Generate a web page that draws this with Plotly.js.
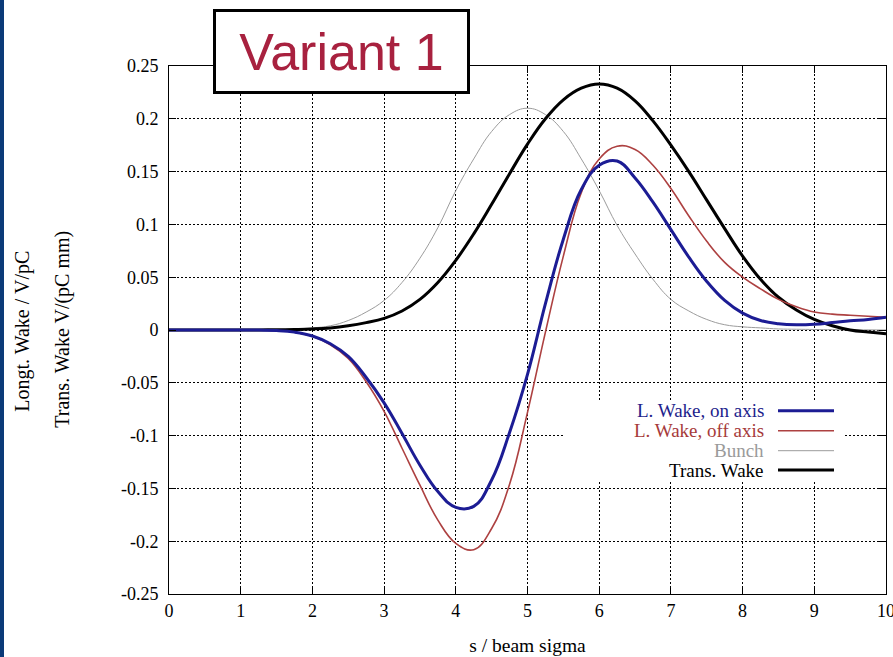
<!DOCTYPE html>
<html>
<head>
<meta charset="utf-8">
<script src="https://cdn.plot.ly/plotly-3.0.1.min.js"></script>
<style>
html,body{margin:0;padding:0;background:#fff;}
#chart{width:893px;height:657px;}
</style>
</head>
<body>
<div id="chart"></div>
<script>
// ---- data ----
const s = [0,0.25,0.5,0.75,1,1.25,1.5,1.75,2,2.25,2.5,2.75,3,3.25,3.5,3.75,4,4.25,4.5,4.75,5,5.25,5.5,5.75,6,6.25,6.5,6.75,7,7.25,7.5,7.75,8,8.25,8.5,8.75,9,9.25,9.5,9.75,10];

const wakeOnAxis = [0,0,0,0,0,-0.0001,-0.0005,-0.002,-0.0057,-0.013,-0.025,-0.045,-0.069,-0.098,-0.128,-0.153,-0.168,-0.167,-0.142,-0.097,-0.042,0.025,0.086,0.133,0.156,0.160,0.144,0.121,0.095,0.069,0.046,0.028,0.016,0.009,0.006,0.005,0.0055,0.007,0.0087,0.010,0.012];

const wakeOffAxis = [0,0,0,0,0,-0.0001,-0.0005,-0.002,-0.006,-0.014,-0.027,-0.049,-0.077,-0.112,-0.147,-0.180,-0.202,-0.208,-0.188,-0.146,-0.078,-0.002,0.070,0.130,0.162,0.174,0.171,0.156,0.134,0.108,0.084,0.064,0.050,0.039,0.029,0.022,0.017,0.015,0.014,0.013,0.012];

const bunch = [0,0,0,0,0,0.0002,0.0005,0.001,0.002,0.004,0.009,0.017,0.028,0.045,0.068,0.097,0.132,0.162,0.188,0.204,0.210,0.204,0.188,0.162,0.132,0.099,0.072,0.048,0.029,0.018,0.010,0.005,0.003,0.002,0.001,0.0007,0.0005,0.0003,0.0002,0.0001,0];

const transWake = [0,0,0,0,0,0.0001,0.0002,0.0005,0.001,0.002,0.004,0.007,0.011,0.018,0.029,0.045,0.066,0.091,0.119,0.148,0.176,0.200,0.218,0.229,0.233,0.229,0.217,0.198,0.175,0.150,0.123,0.096,0.070,0.048,0.031,0.019,0.010,0.004,0.000,-0.002,-0.0035];

const seriesNames = ["L. Wake, on axis","L. Wake, off axis","Bunch","Trans. Wake"];
const xTicks = [0,1,2,3,4,5,6,7,8,9,10];
const xTickLabels = ["0","1","2","3","4","5","6","7","8","9","10"];
const yTicks = [-0.25,-0.2,-0.15,-0.1,-0.05,0,0.05,0.1,0.15,0.2,0.25];
const yTickLabels = ["-0.25","-0.2","-0.15","-0.1","-0.05","0","0.05","0.1","0.15","0.2","0.25"];
const chartTitle = "Variant 1";
const xTitle = "s / beam sigma";
const yTitle1 = "Longt. Wake / V/pC";
const yTitle2 = "Trans. Wake V/(pC mm)";

// ---- styles ----
const serif = "Liberation Serif, 'Times New Roman', serif";
const colors = ["#1c1c94","#ad4141","#9c9c9c","#000000"];
const widths = [3,1.6,1,3];
const textColors = ["#1e1e8c","#a63a3a","#9a9a9a","#000000"];
const values = [wakeOnAxis, wakeOffAxis, bunch, transWake];

const traces = values.map((v,i)=>({
  x: s, y: v, type: "scatter", mode: "lines", name: seriesNames[i],
  line: {color: colors[i], width: widths[i], shape: "spline", smoothing: 1.2},
  showlegend: false, hoverinfo: "skip"
}));
const order = [2,3,1,0].map(i=>traces[i]);

// paper coordinate helpers for the plot box (169..886 x 66..594)
const L=169, R=886, T=66, B=594;
const px = v => (v-L)/(R-L);
const py = v => (B-v)/(B-T);

const legendRows = [410.7, 430.7, 450.7, 470];
const shapes = [
  {type:"rect", xref:"paper", yref:"paper", x0:px(563), x1:px(845), y0:py(482), y1:py(400),
   fillcolor:"#ffffff", line:{width:0}, layer:"above"},
  {type:"rect", xref:"paper", yref:"paper", x0:px(0), x1:px(4), y0:py(700), y1:py(-50),
   fillcolor:"#0b3a78", line:{width:0}, layer:"above"}
];
const annotations = [];
seriesNames.forEach((n,i)=>{
  shapes.push({type:"line", xref:"paper", yref:"paper", x0:px(778), x1:px(834),
    y0:py(legendRows[i]), y1:py(legendRows[i]), line:{color:colors[i], width:widths[i]}, layer:"above"});
  annotations.push({xref:"paper", yref:"paper", x:px(766), y:py(legendRows[i]), xanchor:"right", yanchor:"middle",
    text:n, showarrow:false, font:{family:serif, size:19, color:textColors[i]}});
});
annotations.push({xref:"paper", yref:"paper", x:px(21.7), y:py(331), xanchor:"center", yanchor:"middle",
  textangle:-90, text:yTitle1, showarrow:false, font:{family:serif, size:20, color:"#000"}});
annotations.push({xref:"paper", yref:"paper", x:px(61.7), y:py(329), xanchor:"center", yanchor:"middle",
  textangle:-90, text:yTitle2, showarrow:false, font:{family:serif, size:20, color:"#000"}});
annotations.push({xref:"paper", yref:"paper", x:px(341), y:py(51.5), xanchor:"center", yanchor:"middle",
  text:chartTitle, showarrow:false, width:249, height:77, borderpad:1, borderwidth:3,
  bordercolor:"#000", bgcolor:"#ffffff",
  font:{family:"Liberation Sans, Arial, sans-serif", size:52, color:"#a8213f"}});

const axisCommon = {
  showline:true, linecolor:"#000", linewidth:1, mirror:"ticks",
  ticks:"inside", ticklen:7, tickcolor:"#000", tickwidth:1,
  showgrid:true, gridcolor:"#000", gridwidth:1, griddash:"2px,2px",
  zeroline:false, ticklabeloverflow:"allow",
  tickfont:{family:serif, size:18, color:"#000"}
};

const layout = {
  width:893, height:657,
  margin:{l:L, r:893-R, t:T, b:657-B, pad:0},
  paper_bgcolor:"#ffffff", plot_bgcolor:"#ffffff",
  showlegend:false,
  xaxis: Object.assign({}, axisCommon, {range:[0,10], tickmode:"array", tickvals:xTicks, ticktext:xTickLabels,
    title:{text:xTitle, font:{family:serif, size:19.5, color:"#000"}, standoff:18}}),
  yaxis: Object.assign({}, axisCommon, {range:[-0.25,0.25], tickmode:"array", tickvals:yTicks, ticktext:yTickLabels,
    ticklabelstandoff:6}),
  shapes: shapes,
  annotations: annotations
};

Plotly.newPlot("chart", order, layout, {displayModeBar:false, staticPlot:true});
</script>
</body>
</html>
